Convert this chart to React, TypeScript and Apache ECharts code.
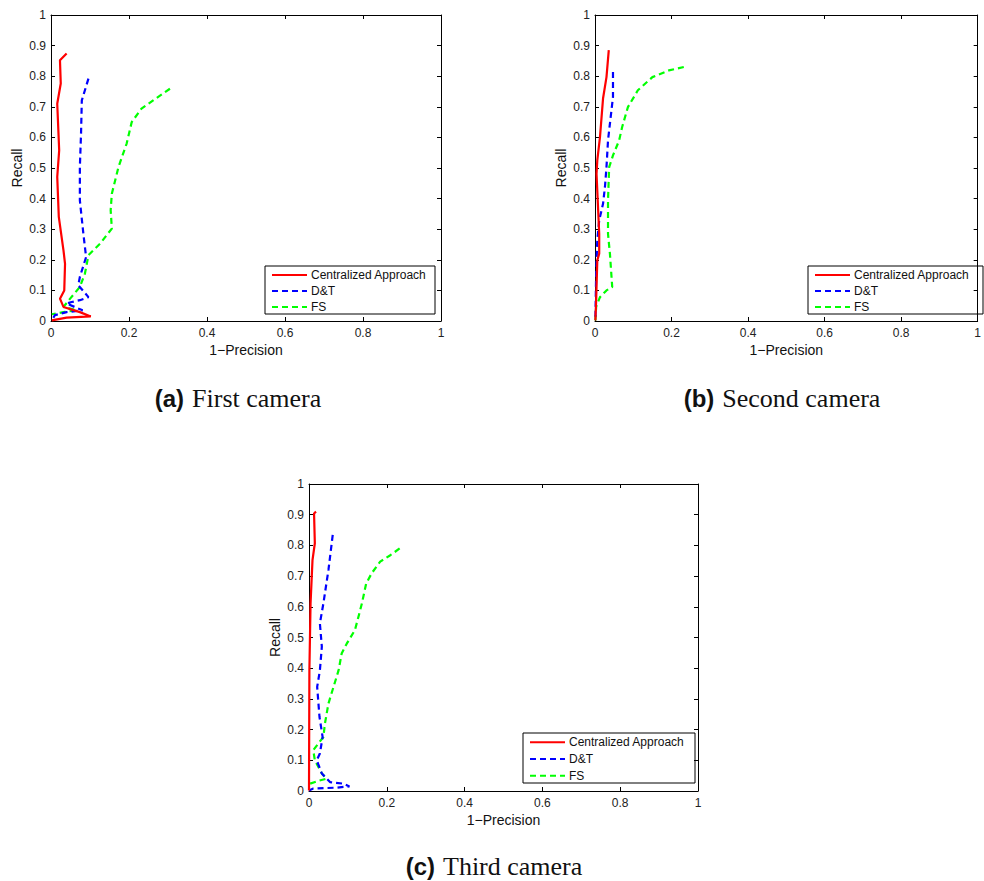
import React, { useEffect, useRef } from "react";
import * as echarts from "echarts";

// ---------- data (1-Precision, Recall) ----------
const seriesNames = ["Centralized Approach", "D&T", "FS"];
const xTicks = [0, 0.2, 0.4, 0.6, 0.8, 1];
const yTicks = [0, 0.1, 0.2, 0.3, 0.4, 0.5, 0.6, 0.7, 0.8, 0.9, 1];
const captions = [
  ["(a)", "First camera"],
  ["(b)", "Second camera"],
  ["(c)", "Third camera"],
];

// (a) First camera
const aCentral = [
  [0.04, 0.874], [0.023, 0.852], [0.025, 0.776], [0.016, 0.71], [0.021, 0.558],
  [0.016, 0.471], [0.02, 0.34], [0.032, 0.231], [0.036, 0.187], [0.034, 0.1],
  [0.023, 0.073], [0.032, 0.046], [0.074, 0.029], [0.102, 0.015], [0.04, 0.011],
  [0.002, 0.002],
];
const aDT = [
  [0.096, 0.792], [0.079, 0.721], [0.077, 0.612], [0.074, 0.503], [0.074, 0.394],
  [0.083, 0.285], [0.09, 0.209], [0.074, 0.144], [0.07, 0.117], [0.096, 0.078],
  [0.074, 0.068], [0.053, 0.062], [0.04, 0.057], [0.081, 0.035], [0.04, 0.029],
  [0.01, 0.019], [0.002, 0.002],
];
const aFS = [
  [0.305, 0.759], [0.232, 0.694], [0.207, 0.65], [0.194, 0.58], [0.173, 0.503],
  [0.156, 0.416], [0.153, 0.362], [0.156, 0.302], [0.126, 0.253], [0.096, 0.215],
  [0.087, 0.155], [0.074, 0.111], [0.049, 0.073], [0.032, 0.046], [0.066, 0.035],
  [0.032, 0.029], [0.002, 0.022],
];

// (b) Second camera
const bCentral = [
  [0.036, 0.885], [0.03, 0.797], [0.021, 0.727], [0.013, 0.601], [0.006, 0.525],
  [0.004, 0.481], [0.011, 0.285], [0.011, 0.22], [0.006, 0.198], [0.003, 0.068],
  [0.001, 0.002],
];
const bDT = [
  [0.047, 0.814], [0.047, 0.732], [0.041, 0.667], [0.034, 0.59], [0.03, 0.503],
  [0.026, 0.438], [0.021, 0.383], [0.011, 0.329], [0.006, 0.264], [0.003, 0.155],
  [0.001, 0.002],
];
const bFS = [
  [0.232, 0.83], [0.193, 0.819], [0.15, 0.797], [0.112, 0.754], [0.086, 0.699],
  [0.071, 0.634], [0.063, 0.59], [0.047, 0.541], [0.037, 0.503], [0.034, 0.394],
  [0.034, 0.285], [0.039, 0.22], [0.045, 0.111], [0.03, 0.1], [0.013, 0.078],
  [0.003, 0.046], [0.001, 0.002],
];

// (c) Third camera
const cCentral = [
  [0.018, 0.91], [0.013, 0.904], [0.015, 0.807], [0.009, 0.752], [0.004, 0.611],
  [0.001, 0.393], [0.0, 0.002],
];
const cDT = [
  [0.061, 0.834], [0.05, 0.72], [0.037, 0.611], [0.028, 0.546], [0.033, 0.47],
  [0.028, 0.393], [0.021, 0.339], [0.027, 0.241], [0.035, 0.176], [0.028, 0.122],
  [0.02, 0.1], [0.033, 0.057], [0.054, 0.029], [0.088, 0.024], [0.104, 0.015],
  [0.071, 0.011], [0.011, 0.008], [0.0, 0.002],
];
const cFS = [
  [0.233, 0.79], [0.209, 0.768], [0.183, 0.747], [0.161, 0.709], [0.147, 0.676],
  [0.136, 0.611], [0.127, 0.567], [0.118, 0.524], [0.097, 0.48], [0.084, 0.448],
  [0.076, 0.393], [0.063, 0.339], [0.05, 0.285], [0.041, 0.22], [0.037, 0.176],
  [0.011, 0.133], [0.015, 0.1], [0.033, 0.057], [0.045, 0.04], [0.024, 0.033],
  [0.003, 0.024],
];

const plotData = [
  [aCentral, aDT, aFS],
  [bCentral, bDT, bFS],
  [cCentral, cDT, cFS],
];

// ---------- styles / layout ----------
const colors = ["#ff0000", "#0000ff", "#00ff00"];
const lineTypes: any[] = ["solid", [6, 4], [6, 4]];
const grids = [
  { left: 51, top: 15, width: 390, height: 306 },
  { left: 595, top: 15, width: 389, height: 306 },
  { left: 309, top: 484, width: 389, height: 307 },
];
const legendBoxes = [
  { x: 265, y: 266, w: 170, h: 48 },
  { x: 808, y: 266, w: 175, h: 48 },
  { x: 523, y: 733, w: 172, h: 50 },
];
const captionPos = [
  { x: 238, y: 398 },
  { x: 782, y: 398 },
  { x: 494, y: 866 },
];

const SANS = "'Liberation Sans', Arial, Helvetica, sans-serif";
const SERIF = "'Liberation Serif', 'Times New Roman', serif";
const fmt = (v: number) => String(parseFloat(v.toFixed(2)));

export default function App() {
  const ref = useRef<HTMLDivElement>(null);
  useEffect(() => {
    if (!ref.current) return;
    const chart = echarts.init(ref.current, null, { renderer: "svg" });

    const xAxis: any[] = [];
    const yAxis: any[] = [];
    const series: any[] = [];
    const graphic: any[] = [];

    grids.forEach((g, gi) => {
      const baseAxis = {
        gridIndex: gi,
        type: "value",
        min: 0,
        max: 1,
        splitLine: { show: false },
        axisLine: { show: true, onZero: false, lineStyle: { color: "#000", width: 1 } },
        axisTick: { show: true, inside: true, length: 4, lineStyle: { color: "#000" } },
      };
      xAxis.push({
        ...baseAxis,
        position: "bottom",
        interval: 0.2,
        name: "1\u2212Precision",
        nameLocation: "middle",
        nameGap: 22,
        nameTextStyle: { fontFamily: SANS, fontSize: 14, color: "#111" },
        axisLabel: { fontFamily: SANS, fontSize: 12, color: "#222", margin: 6, formatter: fmt },
      });
      xAxis.push({
        ...baseAxis,
        position: "top",
        interval: 0.2,
        axisLabel: { show: false },
      });
      yAxis.push({
        ...baseAxis,
        position: "left",
        interval: 0.1,
        name: "Recall",
        nameLocation: "middle",
        nameGap: 27,
        nameRotate: 90,
        nameTextStyle: { fontFamily: SANS, fontSize: 14, color: "#111" },
        axisLabel: { fontFamily: SANS, fontSize: 12, color: "#222", margin: 5, formatter: fmt },
      });
      yAxis.push({
        ...baseAxis,
        position: "right",
        interval: 0.1,
        axisLabel: { show: false },
      });

      plotData[gi].forEach((d, si) => {
        series.push({
          type: "line",
          name: seriesNames[si],
          xAxisIndex: gi * 2,
          yAxisIndex: gi * 2,
          data: d,
          showSymbol: false,
          symbol: "none",
          lineStyle: { color: colors[si], width: 2.2, type: lineTypes[si] },
          z: 3 - si + 2,
        });
      });

      // legend box
      const lb = legendBoxes[gi];
      const rowH = lb.h / 3;
      const children: any[] = [
        {
          type: "rect",
          shape: { x: lb.x, y: lb.y, width: lb.w, height: lb.h },
          style: { fill: "#fff", stroke: "#000", lineWidth: 1 },
        },
      ];
      seriesNames.forEach((n, si) => {
        const cy = lb.y + rowH * (si + 0.5) + 1;
        children.push({
          type: "line",
          shape: { x1: lb.x + 7, y1: cy, x2: lb.x + 42, y2: cy },
          style: {
            stroke: colors[si],
            lineWidth: 2,
            lineDash: si === 0 ? null : [6, 4],
          },
        });
        children.push({
          type: "text",
          x: lb.x + 46,
          y: cy,
          style: {
            text: n,
            fontFamily: SANS,
            fontSize: 12,
            fill: "#111",
            verticalAlign: "middle",
            align: "left",
          },
        });
      });
      graphic.push({ type: "group", children, z: 100 });

      // caption
      const cp = captionPos[gi];
      graphic.push({
        type: "text",
        x: cp.x,
        y: cp.y,
        style: {
          text: `{a|${captions[gi][0]}}{b|${captions[gi][1]}}`,
          align: "center",
          verticalAlign: "middle",
          rich: {
            a: { fontFamily: SANS, fontWeight: "bold", fontSize: 24, fill: "#111", padding: [0, 8, 0, 0] },
            b: { fontFamily: SERIF, fontSize: 26, fill: "#111" },
          },
        },
      });
    });

    chart.setOption({
      animation: false,
      backgroundColor: "#fff",
      grid: grids.map((g) => ({ ...g, containLabel: false })),
      xAxis,
      yAxis,
      series,
      graphic,
    });
    return () => chart.dispose();
  }, []);

  return (
    <div
      ref={ref}
      style={{ position: "fixed", left: 0, top: 0, width: 984, height: 881, background: "#fff" }}
    />
  );
}
